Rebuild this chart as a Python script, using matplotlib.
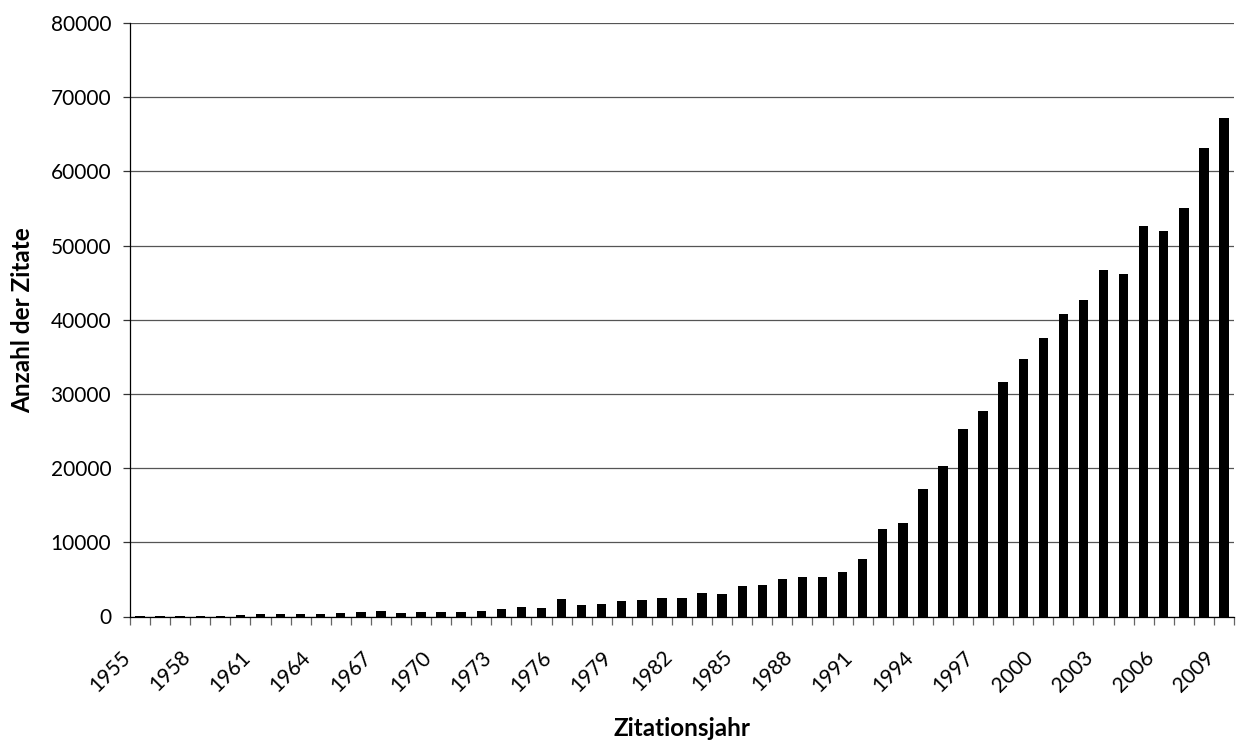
import matplotlib
matplotlib.use("Agg")
import matplotlib.pyplot as plt
from matplotlib.transforms import ScaledTranslation
import numpy as np

years = list(range(1955, 2010))
values = [30, 60, 80, 120, 130, 180, 350, 380, 380, 380,
          450, 560, 680, 520, 560, 560, 650, 780, 1000, 1250,
          1150, 2300, 1550, 1700, 2100, 2200, 2550, 2550, 3200, 3050,
          4050, 4200, 5100, 5350, 5330, 5950, 7800, 11800, 12600, 17150,
          20350, 25300, 27750, 31550, 34650, 37500, 40750, 42600, 46700, 46150,
          52600, 52000, 55050, 63150, 67150]
y_ticks = [0, 10000, 20000, 30000, 40000, 50000, 60000, 70000, 80000]
label_step = 3

plt.rcParams['font.family'] = ['Lato', 'DejaVu Sans']

W, H = 1236, 740
fig = plt.figure(figsize=(W/100, H/100), dpi=100)
x0, x1, y_top, y_bot = 130, 1234, 23, 616.5
ax = fig.add_axes([x0/W, 1-y_bot/H, (x1-x0)/W, (y_bot-y_top)/H])

x = np.arange(len(years))
ax.bar(x, values, width=0.47, color='black', zorder=3)

ax.set_xlim(-0.5, len(years)-0.5)
ax.set_ylim(0, 80000)
ax.set_yticks(y_ticks)
ax.set_yticklabels([str(v) for v in y_ticks], fontsize=15)
ax.yaxis.grid(True, color='#555555', linewidth=0.9, zorder=0)
ax.tick_params(axis='y', length=5, width=0.9, direction='out', pad=8.5, color='#333333')

ax.set_xticks(x[::label_step])
ax.set_xticklabels([str(years[i]) for i in range(0, len(years), label_step)],
                   rotation=45, ha='right', va='center', rotation_mode='anchor', fontsize=15)
ax.set_xticks(np.arange(-0.5, len(years), 1), minor=True)
ax.tick_params(axis='x', which='major', length=0, pad=27)
ax.tick_params(axis='x', which='minor', length=6, width=0.9, direction='out', color='#666666')
shift = ScaledTranslation(-13/100, 0, fig.dpi_scale_trans)
for lab in ax.get_xticklabels():
    lab.set_transform(lab.get_transform() + shift)

for s in ['top', 'right']:
    ax.spines[s].set_visible(False)
ax.spines['left'].set_color('black')
ax.spines['bottom'].set_color('black')
ax.spines['left'].set_linewidth(0.9)
ax.spines['bottom'].set_linewidth(0.9)

fig.text(23/W, 1-320/H, 'Anzahl der Zitate', fontsize=17.5, fontweight='bold',
         rotation=90, ha='center', va='center')
fig.text(682/W, 1-729/H, 'Zitationsjahr', fontsize=17.5, fontweight='bold',
         ha='center', va='center')

fig.savefig('out.png', dpi=100)
